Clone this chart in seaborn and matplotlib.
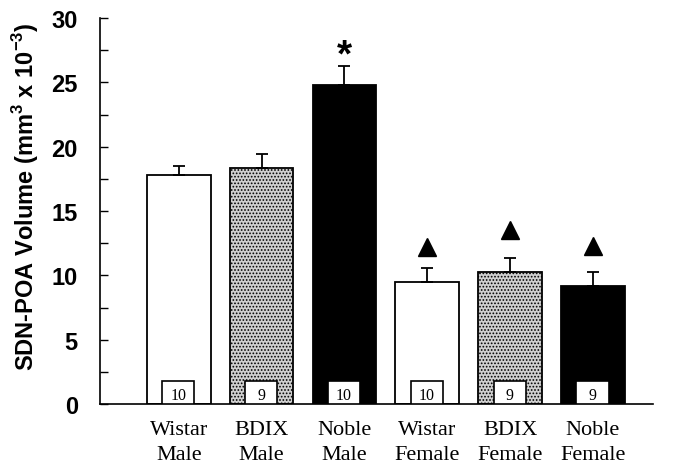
import matplotlib
matplotlib.use("Agg")
import matplotlib.pyplot as plt
import seaborn as sns
import pandas as pd
import numpy as np
from matplotlib.patches import Rectangle

# ---- data ----
groups = ["Wistar\nMale", "BDIX\nMale", "Noble\nMale",
          "Wistar\nFemale", "BDIX\nFemale", "Noble\nFemale"]
strain = ["Wistar", "BDIX", "Noble", "Wistar", "BDIX", "Noble"]
volume = [17.8, 18.35, 24.8, 9.45, 10.3, 9.2]
sem = [0.7, 1.05, 1.45, 1.15, 1.05, 1.05]
n_animals = [10, 9, 10, 10, 9, 9]
star_y = [None, None, 28.05, None, None, None]
triangle_y = [None, None, None, 12.2, 13.55, 12.3]
yticks = [0, 5, 10, 15, 20, 25, 30]
ylabel = "SDN-POA Volume (mm$^\\mathbf{3}$ x 10$^\\mathbf{-3}$)"

face = {"Wistar": "white", "BDIX": "#cfcfcf", "Noble": "black"}

df = pd.DataFrame({"group": groups, "strain": strain, "volume": volume})

sns.set_theme(style="white")
plt.rcParams["font.family"] = ["Liberation Sans", "DejaVu Sans"]
plt.rcParams["mathtext.fontset"] = "custom"
plt.rcParams["mathtext.rm"] = "Liberation Sans:bold"
plt.rcParams["mathtext.bf"] = "Liberation Sans:bold"
plt.rcParams["hatch.color"] = "#b0b0b0"
plt.rcParams["hatch.linewidth"] = 0.8

fig, ax = plt.subplots(figsize=(6.73, 4.64), dpi=100)
fig.subplots_adjust(left=0.1486, right=0.971, bottom=0.127, top=0.959)

sns.barplot(data=df, x="group", y="volume", hue="group", order=groups,
            palette=[face[s] for s in strain], legend=False,
            width=0.77, edgecolor="black", linewidth=1.3, ax=ax,
            errorbar=None, saturation=1)

for i, p in enumerate(ax.patches):
    if strain[i] == "BDIX":
        p.set_hatch(".....")

x = np.arange(len(groups))
ax.errorbar(x, volume, yerr=[np.zeros(len(sem)), sem], fmt="none",
            ecolor="black", elinewidth=1.3, capsize=4, capthick=1.3, zorder=3)

# n boxes
for i, n in enumerate(n_animals):
    ax.add_patch(Rectangle((i - 0.2, 0), 0.39, 1.8, facecolor="white",
                           edgecolor="black", linewidth=1.2, zorder=4))
    ax.text(i - 0.005, 0.12, str(n), ha="center", va="bottom",
            family="Liberation Serif", fontsize=11.5, zorder=5, color="black")

# significance marks
for i, s in enumerate(star_y):
    if s is not None:
        ax.text(i, s - 1.72, "*", ha="center", va="baseline",
                fontsize=28, fontweight="bold", color="black")
for i, t in enumerate(triangle_y):
    if t is not None:
        ax.plot(i, t, marker="^", markersize=13.5,
                color="black", linestyle="none")

ax.set_xlim(-0.95, 5.73)
ax.set_ylim(0, 30)
ax.set_yticks(yticks)
ax.set_yticks(np.arange(2.5, 30, 5), minor=True)
ax.set_yticklabels([str(t) for t in yticks], fontsize=17, fontweight="bold")
ax.tick_params(axis="y", which="both", direction="in", length=6, width=1,
               left=True, pad=16, colors="black")
ax.tick_params(axis="x", length=0, pad=11.5)
for lab in ax.get_xticklabels():
    lab.set_family("Liberation Serif")
    lab.set_fontsize(16)
    lab.set_linespacing(1.45)
    lab.set_color("black")

ax.set_xlabel("")
ax.set_ylabel(ylabel, fontsize=17, fontweight="bold", color="black")
ax.yaxis.set_label_coords(-0.107, 0.54)

for sp in ["top", "right"]:
    ax.spines[sp].set_visible(False)
for sp in ["left", "bottom"]:
    ax.spines[sp].set_color("black")
    ax.spines[sp].set_linewidth(1.2)

fig.savefig("out.png", dpi=100, facecolor="white")
